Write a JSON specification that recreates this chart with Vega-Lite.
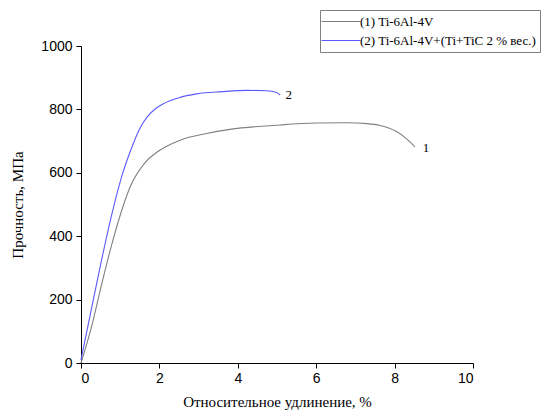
{
  "$schema": "https://vega.github.io/schema/vega-lite/v6.json",
  "width": 392,
  "height": 317,
  "autosize": "none",
  "padding": {"left": 81, "top": 46, "right": 74, "bottom": 49},
  "background": "white",
  "config": {"view": {"stroke": null}},
  "datasets": {
    "curves": [
      {"e": 0, "s": 0, "series": "(1) Ti-6Al-4V"},
      {"e": 0.26, "s": 110, "series": "(1) Ti-6Al-4V"},
      {"e": 0.52, "s": 245, "series": "(1) Ti-6Al-4V"},
      {"e": 0.77, "s": 367, "series": "(1) Ti-6Al-4V"},
      {"e": 1.03, "s": 478, "series": "(1) Ti-6Al-4V"},
      {"e": 1.28, "s": 563, "series": "(1) Ti-6Al-4V"},
      {"e": 1.62, "s": 630, "series": "(1) Ti-6Al-4V"},
      {"e": 1.96, "s": 667, "series": "(1) Ti-6Al-4V"},
      {"e": 2.53, "s": 703, "series": "(1) Ti-6Al-4V"},
      {"e": 3.2, "s": 724, "series": "(1) Ti-6Al-4V"},
      {"e": 3.8, "s": 737, "series": "(1) Ti-6Al-4V"},
      {"e": 5.08, "s": 751, "series": "(1) Ti-6Al-4V"},
      {"e": 6.0, "s": 757, "series": "(1) Ti-6Al-4V"},
      {"e": 6.78, "s": 758, "series": "(1) Ti-6Al-4V"},
      {"e": 7.3, "s": 755, "series": "(1) Ti-6Al-4V"},
      {"e": 7.63, "s": 749, "series": "(1) Ti-6Al-4V"},
      {"e": 8.05, "s": 730, "series": "(1) Ti-6Al-4V"},
      {"e": 8.3, "s": 708, "series": "(1) Ti-6Al-4V"},
      {"e": 8.52, "s": 682, "series": "(1) Ti-6Al-4V"},
      {"e": 0, "s": 10, "series": "(2) Ti-6Al-4V+(Ti+TiC 2 % вес.)"},
      {"e": 0.26, "s": 167, "series": "(2) Ti-6Al-4V+(Ti+TiC 2 % вес.)"},
      {"e": 0.52, "s": 322, "series": "(2) Ti-6Al-4V+(Ti+TiC 2 % вес.)"},
      {"e": 0.77, "s": 461, "series": "(2) Ti-6Al-4V+(Ti+TiC 2 % вес.)"},
      {"e": 1.03, "s": 585, "series": "(2) Ti-6Al-4V+(Ti+TiC 2 % вес.)"},
      {"e": 1.28, "s": 675, "series": "(2) Ti-6Al-4V+(Ti+TiC 2 % вес.)"},
      {"e": 1.5, "s": 740, "series": "(2) Ti-6Al-4V+(Ti+TiC 2 % вес.)"},
      {"e": 1.7, "s": 778, "series": "(2) Ti-6Al-4V+(Ti+TiC 2 % вес.)"},
      {"e": 1.9, "s": 802, "series": "(2) Ti-6Al-4V+(Ti+TiC 2 % вес.)"},
      {"e": 2.1, "s": 818, "series": "(2) Ti-6Al-4V+(Ti+TiC 2 % вес.)"},
      {"e": 2.5, "s": 837, "series": "(2) Ti-6Al-4V+(Ti+TiC 2 % вес.)"},
      {"e": 2.95, "s": 849, "series": "(2) Ti-6Al-4V+(Ti+TiC 2 % вес.)"},
      {"e": 3.6, "s": 856, "series": "(2) Ti-6Al-4V+(Ti+TiC 2 % вес.)"},
      {"e": 4.23, "s": 860, "series": "(2) Ti-6Al-4V+(Ti+TiC 2 % вес.)"},
      {"e": 4.74, "s": 859, "series": "(2) Ti-6Al-4V+(Ti+TiC 2 % вес.)"},
      {"e": 4.99, "s": 853, "series": "(2) Ti-6Al-4V+(Ti+TiC 2 % вес.)"},
      {"e": 5.08, "s": 845, "series": "(2) Ti-6Al-4V+(Ti+TiC 2 % вес.)"}
    ],
    "labels": [
      {"e": 5.22, "s": 845, "t": "2"},
      {"e": 8.72, "s": 678, "t": "1"}
    ]
  },
  "layer": [
    {
      "data": {"name": "curves"},
      "mark": {"type": "line", "interpolate": "monotone", "strokeWidth": 1.1},
      "encoding": {
        "x": {
          "field": "e", "type": "quantitative",
          "scale": {"domain": [0, 10], "nice": false, "zero": false},
          "axis": {
            "title": "Относительное удлинение, %",
            "values": [0, 1, 2, 3, 4, 5, 6, 7, 8, 9, 10],
            "labelExpr": "datum.value % 2 === 0 ? datum.label : ''",
            "tickSize": {"condition": {"test": "datum.value % 2 === 0", "value": 5}, "value": 3},
            "grid": false,
            "domainColor": "black", "tickColor": "black",
            "labelFont": "Liberation Sans", "labelFontSize": 14, "labelColor": "black", "labelPadding": 3,
            "titleFont": "Liberation Serif", "titleFontSize": 15, "titleFontWeight": "normal", "titleColor": "black", "titlePadding": 9
          }
        },
        "y": {
          "field": "s", "type": "quantitative",
          "scale": {"domain": [0, 1000], "nice": false},
          "axis": {
            "title": "Прочность, МПа",
            "values": [0, 100, 200, 300, 400, 500, 600, 700, 800, 900, 1000],
            "labelExpr": "datum.value % 200 === 0 ? datum.label : ''",
            "format": "d",
            "tickSize": {"condition": {"test": "datum.value % 200 === 0", "value": 5}, "value": 3},
            "grid": false,
            "domainColor": "black", "tickColor": "black",
            "labelFont": "Liberation Sans", "labelFontSize": 14, "labelColor": "black", "labelPadding": 4,
            "titleFont": "Liberation Serif", "titleFontSize": 15, "titleFontWeight": "normal", "titleColor": "black", "titlePadding": 15
          }
        },
        "color": {
          "field": "series", "type": "nominal",
          "scale": {"range": ["#808080", "#5a5aff"]},
          "legend": {
            "title": null,
            "orient": "none",
            "legendX": 239,
            "legendY": -36,
            "symbolType": "M-3,0H3",
            "symbolSize": 169,
            "symbolOffset": 9.5,
            "symbolStrokeWidth": 1.1,
            "labelFont": "Liberation Serif",
            "labelFontSize": 13,
            "labelColor": "black",
            "labelLimit": 400,
            "rowPadding": 4,
            "labelOffset": 11.5,
            "strokeColor": "#808080",
            "padding": 4
          }
        }
      }
    },
    {
      "data": {"name": "labels"},
      "mark": {"type": "text", "font": "Liberation Serif", "fontSize": 13, "align": "left", "baseline": "middle", "color": "black"},
      "encoding": {
        "x": {"field": "e", "type": "quantitative"},
        "y": {"field": "s", "type": "quantitative"},
        "text": {"field": "t"}
      }
    }
  ]
}
